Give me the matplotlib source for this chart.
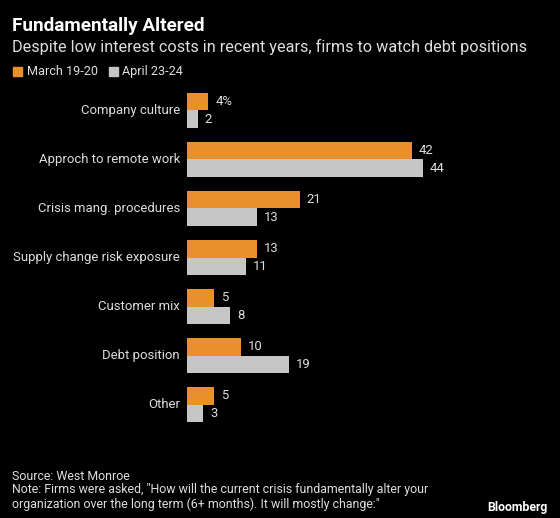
import numpy as np
import matplotlib.pyplot as plt
from matplotlib.patches import Rectangle

plt.rcParams['font.family'] = ['Roboto', 'DejaVu Sans']

categories = ["Company culture", "Approch to remote work", "Crisis mang. procedures",
              "Supply change risk exposure", "Customer mix", "Debt position", "Other"]
march = [4, 42, 21, 13, 5, 10, 5]
april = [2, 44, 13, 11, 8, 19, 3]
series_names = ["March 19-20", "April 23-24"]

ORANGE = '#E8912C'
GREY = '#C6C6C6'
TXT = '#DDDDDD'
BG = '#000000'

W, H = 560, 518
fig = plt.figure(figsize=(W / 100, H / 100), dpi=100, facecolor=BG)
renderer = fig.canvas.get_renderer()


def fit(t, width_px):
    # scale font size so the text gets the width measured on the reference
    for _ in range(3):
        w = t.get_window_extent(renderer).width
        t.set_fontsize(t.get_fontsize() * width_px / w)
    return t.get_fontsize()


def ftext(x, y, s, **kw):
    return fig.text(x / W, 1 - y / H, s, va='center', **kw)


# axes placed in pixel coordinates
left, right, top, bottom = 187, 540, 85, 430
ax = fig.add_axes([left / W, 1 - bottom / H, (right - left) / W, (bottom - top) / H])
ax.set_facecolor(BG)

y = np.arange(len(categories))
h = 0.365
ax.barh(y - h / 2, march, height=h, color=ORANGE)
ax.barh(y + h / 2, april, height=h, color=GREY)
px_per_unit = 5.36
ax.set_xlim(0, (right - left) / px_per_unit)
ax.set_ylim(len(categories) - 0.5 + 0.02, -0.5 - 0.02)
ax.set_xticks([])
ax.set_yticks([])
for s in ax.spines.values():
    s.set_visible(False)

# category labels
probe = ftext(180, 300, categories[3], color=TXT, ha='right', fontsize=10)
lab_fs = fit(probe, 167)
probe.remove()
for i, c in enumerate(categories):
    ax.text(-7 / px_per_unit, y[i], c, color=TXT, fontsize=lab_fs, va='center', ha='right')

gap = 7 / px_per_unit
for i in range(len(categories)):
    lab = "%d%%" % march[i] if i == 0 else str(march[i])
    ax.text(march[i] + gap, y[i] - h / 2, lab, color=TXT, fontsize=lab_fs, va='center', ha='left')
    ax.text(april[i] + gap, y[i] + h / 2, str(april[i]), color=TXT, fontsize=lab_fs,
            va='center', ha='left')

# title block
t = ftext(12, 26, "Fundamentally Altered", color='white', fontsize=14, fontweight='bold', ha='left')
fit(t, 191)
t = ftext(12, 47, "Despite low interest costs in recent years, firms to watch debt positions",
          color=TXT, fontsize=12, ha='left')
fit(t, 513)

# legend
fig.patches.append(Rectangle((13 / W, 1 - 76 / H), 8.5 / W, 8.5 / H, color=ORANGE,
                             transform=fig.transFigure, figure=fig))
t = ftext(27, 72, series_names[0], color=TXT, fontsize=10, ha='left')
leg_fs = fit(t, 71)
fig.patches.append(Rectangle((109 / W, 1 - 76 / H), 8.5 / W, 8.5 / H, color=GREY,
                             transform=fig.transFigure, figure=fig))
ftext(122, 72, series_names[1], color=TXT, fontsize=leg_fs, ha='left')

# footer
t = ftext(12, 490, "Note: Firms were asked, \"How will the current crisis fundamentally alter your",
          color=TXT, fontsize=10, ha='left')
foot_fs = fit(t, 420)
ftext(12, 476, "Source: West Monroe", color=TXT, fontsize=foot_fs, ha='left')
ftext(12, 504, "organization over the long term (6+ months). It will mostly change:\"",
      color=TXT, fontsize=foot_fs, ha='left')
t = ftext(548, 507, "Bloomberg", color='white', fontsize=10, fontweight='bold', ha='right')
fit(t, 60)

fig.savefig("out.png", dpi=100, facecolor=BG)
